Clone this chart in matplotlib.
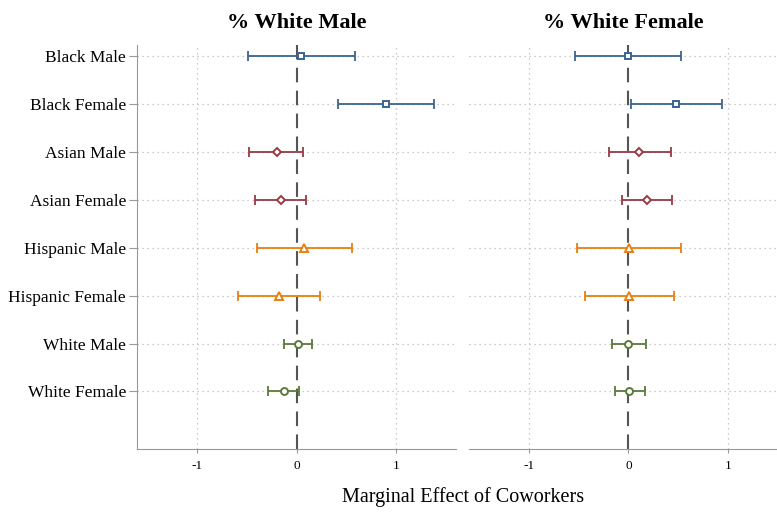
import numpy as np
import matplotlib.pyplot as plt

plt.rcParams['font.family'] = ['Liberation Serif', 'DejaVu Serif']

groups = ["Black Male", "Black Female", "Asian Male", "Asian Female",
          "Hispanic Male", "Hispanic Female", "White Male", "White Female"]

# % White Male coworkers: point estimate, lower, upper
wm_est = [0.05, 0.90, -0.20, -0.16, 0.08, -0.18, 0.02, -0.13]
wm_lo = [-0.49, 0.42, -0.48, -0.42, -0.40, -0.59, -0.13, -0.29]
wm_hi = [0.59, 1.38, 0.07, 0.10, 0.56, 0.24, 0.16, 0.03]

# % White Female coworkers
wf_est = [0.00, 0.48, 0.11, 0.19, 0.01, 0.01, 0.00, 0.01]
wf_lo = [-0.54, 0.03, -0.20, -0.07, -0.52, -0.44, -0.17, -0.14]
wf_hi = [0.53, 0.94, 0.43, 0.44, 0.53, 0.46, 0.18, 0.17]

colors = ["#3a6591", "#3a6591", "#983a43", "#983a43",
          "#e8800e", "#e8800e", "#5c7a3a", "#5c7a3a"]
markers = ["s", "s", "D", "D", "^", "^", "o", "o"]
msizes = [5, 5, 4.5, 4.5, 5.5, 5.5, 5, 5]

fig = plt.figure(figsize=(7.77, 5.14), dpi=100)
ax1 = fig.add_axes([137 / 777, 1 - 449 / 514, 319 / 777, 404 / 514])
ax2 = fig.add_axes([469 / 777, 1 - 449 / 514, 308 / 777, 404 / 514])

ypos = np.arange(1, len(groups) + 1)


def draw(ax, est, lo, hi, title, xmax):
    for y in ypos:
        ax.axhline(y, color="#bbbbbb", lw=0.9, ls=(0, (1, 3)), zorder=0)
    for x in [-1, 1]:
        ax.axvline(x, color="#bbbbbb", lw=0.9, ls=(0, (1, 3)), zorder=0)
    ax.axvline(0, color="#555555", lw=1.5, ls=(0, (7, 4)), zorder=1)
    for i in range(len(groups)):
        e = np.array([[est[i] - lo[i]], [hi[i] - est[i]]])
        ax.errorbar(est[i], ypos[i], xerr=e, fmt="none", ecolor=colors[i],
                    elinewidth=1.3, capsize=3.5, capthick=1.3, zorder=2)
        ax.plot(est[i], ypos[i], marker=markers[i], ms=msizes[i],
                mfc="white", mec=colors[i], mew=1.4, ls="none", zorder=3)
    ax.set_xlim(-1.6, xmax)
    ax.set_ylim(9.2, 0.77)
    ax.set_xticks([-1, 0, 1])
    ax.set_xticklabels(["-1", "0", "1"], fontsize=9.5)
    ax.tick_params(axis="x", length=3, color="#999999", pad=5)
    for s in ["top", "right"]:
        ax.spines[s].set_visible(False)
    ax.spines["bottom"].set_color("#999999")
    ax.spines["left"].set_color("#999999")
    ax.set_title(title, fontsize=16, fontweight="bold", pad=12)


draw(ax1, wm_est, wm_lo, wm_hi, "% White Male", 1.6)
draw(ax2, wf_est, wf_lo, wf_hi, "% White Female", 1.49)

ax1.set_yticks(ypos)
ax1.set_yticklabels(groups, fontsize=12.5)
ax1.tick_params(axis="y", length=6, color="#999999", pad=2)

ax2.set_yticks([])
ax2.spines["left"].set_visible(False)

fig.text(463 / 777, 1 - 497 / 514, "Marginal Effect of Coworkers",
         fontsize=14.5, ha="center", va="center")

fig.savefig("out.png", dpi=100)
